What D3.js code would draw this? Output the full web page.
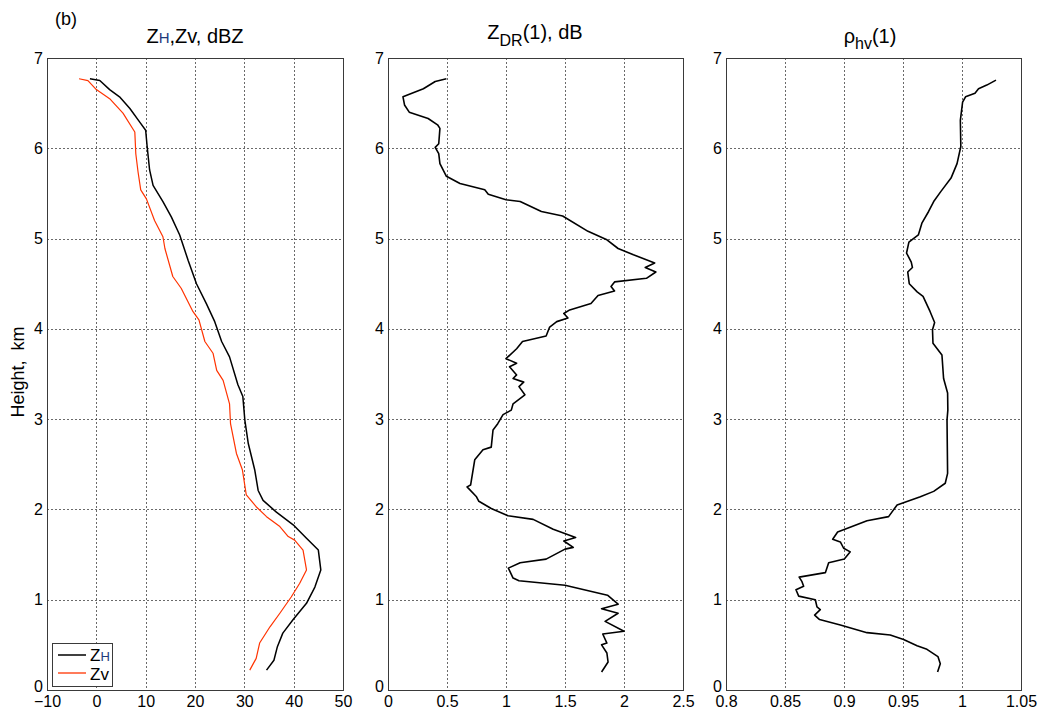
<!DOCTYPE html>
<html>
<head>
<meta charset="utf-8">
<script src="https://cdn.jsdelivr.net/npm/d3@7"></script>
<style>
  body { margin: 0; background: #fff; }
  text { font-family: "Liberation Sans", Arial, sans-serif; }
</style>
</head>
<body>
<div id="chart"></div>
<script>
const W = 1039, H = 715;
const top_y = 58, bottom_y = 690;

// heights (km) and values
const zh_height = [6.77,6.75,6.65,6.57,6.44,6.29,6.20,6.02,5.76,5.59,5.41,5.24,5.04,4.76,4.50,4.28,4.08,3.86,3.69,3.38,3.25,2.99,2.73,2.44,2.21,2.10,1.97,1.83,1.68,1.55,1.33,1.14,0.96,0.78,0.63,0.48,0.33,0.22];
const zh_value  = [-1.3,0.7,2.7,4.7,6.8,8.8,10.0,10.3,10.8,11.5,13.5,15.2,16.9,18.6,20.3,22.3,24.0,25.4,27.0,28.7,29.7,30.1,30.8,32.1,32.8,33.8,36.5,39.9,42.6,45.0,45.5,44.3,42.6,39.9,37.8,36.7,36.0,34.5];

const zv_height = [6.77,6.75,6.65,6.55,6.39,6.18,5.94,5.74,5.54,5.44,5.20,5.02,4.89,4.58,4.45,4.19,4.10,3.86,3.73,3.54,3.43,3.17,2.95,2.62,2.44,2.16,2.03,1.92,1.81,1.70,1.66,1.55,1.33,1.18,1.03,0.85,0.70,0.52,0.35,0.22];
const zv_value  = [-3.5,-1.7,0.0,2.7,5.4,7.8,8.0,8.45,9.0,10.15,11.8,13.5,13.9,15.5,17.2,19.6,20.8,22.0,23.65,24.4,25.7,27.0,27.2,28.4,29.6,30.4,32.4,34.5,37.2,38.9,40.2,41.9,42.6,41.2,39.5,37.2,35.2,33.1,32.4,31.1];

const zdr_height = [6.77,6.74,6.66,6.57,6.48,6.40,6.33,6.26,6.22,6.05,6.01,5.94,5.83,5.69,5.61,5.54,5.49,5.43,5.41,5.30,5.25,5.08,4.99,4.89,4.82,4.73,4.68,4.63,4.56,4.52,4.47,4.42,4.37,4.28,4.21,4.17,4.12,4.08,4.02,3.92,3.86,3.78,3.67,3.62,3.58,3.49,3.45,3.41,3.36,3.27,3.17,3.10,3.05,2.95,2.88,2.69,2.66,2.55,2.27,2.25,2.14,2.09,2.01,1.93,1.89,1.78,1.69,1.65,1.58,1.56,1.45,1.41,1.35,1.24,1.21,1.16,1.05,0.95,0.90,0.85,0.76,0.65,0.62,0.52,0.50,0.41,0.31,0.20];
const zdr_value  = [0.495,0.40,0.30,0.127,0.14,0.18,0.34,0.42,0.44,0.43,0.40,0.43,0.44,0.495,0.61,0.82,0.85,1.00,1.12,1.30,1.48,1.695,1.85,1.95,2.08,2.26,2.18,2.27,2.19,1.92,1.89,1.92,1.78,1.72,1.54,1.49,1.525,1.43,1.37,1.34,1.14,1.09,1.00,1.09,1.03,1.09,1.06,1.15,1.11,1.16,1.06,1.045,0.975,0.93,0.89,0.875,0.805,0.735,0.70,0.67,0.75,0.77,0.875,1.017,1.23,1.40,1.59,1.49,1.57,1.50,1.34,1.12,1.02,1.06,1.11,1.50,1.86,1.95,1.81,1.95,1.84,2.00,1.82,1.855,1.81,1.855,1.865,1.81];

const rho_height = [6.755,6.70,6.66,6.61,6.57,6.51,6.31,6.02,5.83,5.67,5.52,5.41,5.30,5.17,5.04,4.96,4.84,4.74,4.68,4.63,4.50,4.41,4.36,4.19,4.07,3.99,3.84,3.71,3.45,3.29,3.10,2.99,2.40,2.29,2.20,2.14,2.05,1.92,1.875,1.81,1.75,1.67,1.64,1.57,1.53,1.45,1.41,1.30,1.25,1.20,1.15,1.11,1.04,1.00,0.92,0.89,0.83,0.78,0.72,0.635,0.61,0.56,0.49,0.45,0.37,0.29,0.20];
const rho_value  = [1.0288,1.021,1.014,1.011,1.003,1.0005,0.9986,0.999,0.9958,0.9907,0.982,0.976,0.9717,0.966,0.963,0.955,0.953,0.957,0.958,0.954,0.9553,0.962,0.967,0.973,0.9768,0.975,0.9754,0.983,0.9844,0.9878,0.988,0.9873,0.9878,0.9858,0.976,0.9647,0.945,0.9378,0.9195,0.9068,0.8946,0.8904,0.8969,0.8997,0.9053,0.9003,0.887,0.8842,0.862,0.8644,0.8658,0.8593,0.8616,0.8757,0.8771,0.8799,0.8751,0.8793,0.8969,0.9195,0.9392,0.9505,0.9619,0.9703,0.9796,0.9816,0.9793];

// tick labels
const height_ticks = [0,1,2,3,4,5,6,7];
const zh_ticks  = [-10,0,10,20,30,40,50];
const zdr_ticks = [0,0.5,1,1.5,2,2.5];
const rho_ticks = [0.8,0.85,0.9,0.95,1,1.05];

const panels = [
  { x0: 47,  x1: 343,  domain: [-10, 50],   ticks: zh_ticks },
  { x0: 388, x1: 683,  domain: [0, 2.5],    ticks: zdr_ticks },
  { x0: 726, x1: 1021, domain: [0.8, 1.05], ticks: rho_ticks }
];

const svg = d3.select("#chart").append("svg")
    .attr("width", W)
    .attr("height", H);

const y = d3.scaleLinear().domain([0, 7]).range([bottom_y, top_y]);

function zip(hs, vs) { return hs.map((h, i) => ({h: h, v: vs[i]})); }

panels.forEach((p, k) => {
  p.x = d3.scaleLinear().domain(p.domain).range([p.x0, p.x1]);
  const g = svg.append("g");

  // grid
  g.selectAll(".gx").data(p.ticks.slice(1, -1)).enter().append("line")
      .attr("x1", d => Math.round(p.x(d)) + 0.5).attr("x2", d => Math.round(p.x(d)) + 0.5)
      .attr("y1", top_y).attr("y2", bottom_y)
      .attr("stroke", "#444").attr("stroke-dasharray", "2,2").attr("stroke-width", 0.8);
  g.selectAll(".gy").data(height_ticks.slice(1, -1)).enter().append("line")
      .attr("x1", p.x0).attr("x2", p.x1)
      .attr("y1", d => Math.round(y(d)) + 0.5).attr("y2", d => Math.round(y(d)) + 0.5)
      .attr("stroke", "#444").attr("stroke-dasharray", "2,2").attr("stroke-width", 0.8);

  // x axis
  const xa = g.append("g")
      .attr("transform", "translate(0," + bottom_y + ")")
      .call(d3.axisBottom(p.x).tickValues(p.ticks).tickSize(0).tickPadding(6).tickFormat(d3.format("")));
  xa.select(".domain").remove();
  xa.selectAll("text").attr("font-size", 16).attr("fill", "#000")
      .attr("font-family", "Liberation Sans, Arial, sans-serif");

  // y axis
  const ya = g.append("g")
      .attr("transform", "translate(" + p.x0 + ",0)")
      .call(d3.axisLeft(y).tickValues(height_ticks).tickSize(0).tickPadding(4).tickFormat(d3.format("d")));
  ya.select(".domain").remove();
  ya.selectAll("text").attr("font-size", 16).attr("fill", "#000")
      .attr("font-family", "Liberation Sans, Arial, sans-serif");
  // the corner "0" sits a little higher, as in the original
  ya.selectAll(".tick").filter(d => d === 0).select("text").attr("dy", "0.1em");

  // frame
  g.append("rect")
      .attr("x", p.x0 + 0.5).attr("y", top_y + 0.5)
      .attr("width", p.x1 - p.x0).attr("height", bottom_y - top_y)
      .attr("fill", "none").attr("stroke", "#3a3a3a").attr("stroke-width", 1);
});

function drawLine(p, hs, vs, color, width) {
  const line = d3.line().x(d => p.x(d.v)).y(d => y(d.h));
  svg.append("path")
      .datum(zip(hs, vs))
      .attr("d", line)
      .attr("fill", "none")
      .attr("stroke", color)
      .attr("stroke-width", width)
      .attr("stroke-linejoin", "round");
}

drawLine(panels[0], zv_height, zv_value, "#ff3300", 1.2);
drawLine(panels[0], zh_height, zh_value, "#000", 1.5);
drawLine(panels[1], zdr_height, zdr_value, "#000", 1.6);
drawLine(panels[2], rho_height, rho_value, "#000", 1.6);

// titles
const t1 = svg.append("text").attr("x", 195).attr("y", 43).attr("text-anchor", "middle").attr("font-size", 20);
t1.append("tspan").text("Z");
t1.append("tspan").text("H").attr("font-size", 15).attr("fill", "#1f3a7a");
t1.append("tspan").text(",Zv, dBZ");

const t2 = svg.append("text").attr("x", 535).attr("y", 39).attr("text-anchor", "middle").attr("font-size", 20);
t2.append("tspan").text("Z");
t2.append("tspan").text("DR").attr("font-size", 16).attr("dy", 7);
t2.append("tspan").text("(1), dB").attr("dy", -7);

const t3 = svg.append("text").attr("x", 870).attr("y", 43).attr("text-anchor", "middle").attr("font-size", 20);
t3.append("tspan").text("\u03c1");
t3.append("tspan").text("hv").attr("font-size", 16).attr("dy", 6);
t3.append("tspan").text("(1)").attr("dy", -6);

svg.append("text").attr("x", 55).attr("y", 25).attr("font-size", 18).text("(b)");

svg.append("text")
    .attr("transform", "translate(24,372) rotate(-90)")
    .attr("text-anchor", "middle").attr("font-size", 18)
    .style("white-space", "pre")
    .text("Height,  km");

// legend
const leg = svg.append("g");
leg.append("rect").attr("x", 52.5).attr("y", 643.5).attr("width", 60).attr("height", 43)
    .attr("fill", "#fff").attr("stroke", "#3a3a3a");
leg.append("line").attr("x1", 58).attr("x2", 86).attr("y1", 655).attr("y2", 655).attr("stroke", "#000").attr("stroke-width", 1.5);
leg.append("line").attr("x1", 58).attr("x2", 86).attr("y1", 673).attr("y2", 673).attr("stroke", "#ff3300").attr("stroke-width", 1.3);
const l1 = leg.append("text").attr("x", 90).attr("y", 661).attr("font-size", 17);
l1.append("tspan").text("Z");
l1.append("tspan").text("H").attr("font-size", 13).attr("fill", "#1f3a7a");
leg.append("text").attr("x", 90).attr("y", 680).attr("font-size", 17).text("Zv");
</script>
</body>
</html>
